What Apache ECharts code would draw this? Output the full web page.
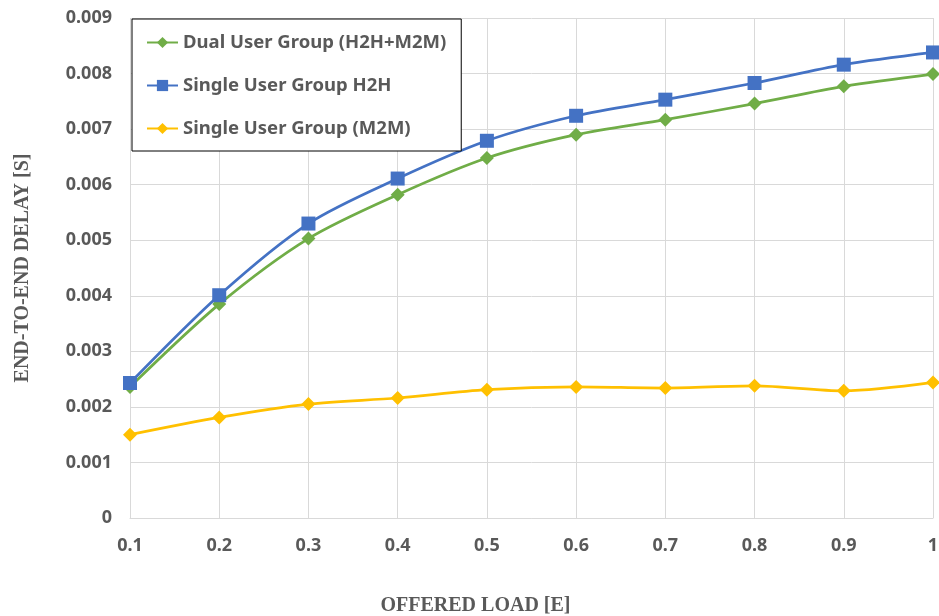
<!DOCTYPE html>
<html>
<head>
<meta charset="utf-8">
<script src="https://cdn.jsdelivr.net/npm/echarts@6/dist/echarts.min.js"></script>
<style>
html,body{margin:0;padding:0;background:#fff;}
#chart{width:939px;height:616px;}
</style>
</head>
<body>
<div id="chart"></div>
<script>
// offered load [E]
var loads = ['0.1', '0.2', '0.3', '0.4', '0.5', '0.6', '0.7', '0.8', '0.9', '1'];
// end-to-end delay [s]
var dualGroup = [0.00236, 0.00385, 0.00503, 0.00582, 0.00648, 0.00690, 0.00717, 0.00746, 0.00777, 0.00799];
var singleH2H = [0.00243, 0.00401, 0.00530, 0.00611, 0.00679, 0.00724, 0.00753, 0.00783, 0.00816, 0.00838];
var singleM2M = [0.00150, 0.00181, 0.00205, 0.00216, 0.00231, 0.00236, 0.00234, 0.00238, 0.00229, 0.00244];

var names = ['Dual User Group (H2H+M2M)', 'Single User Group H2H', 'Single User Group (M2M)'];
var colors = ['#70ad47', '#4472c4', '#ffc000'];

var labelFont = 'Noto Sans';
var titleFont = 'Liberation Serif';

function mkSeries(i, data, symbol, size) {
    return {
        name: names[i],
        type: 'line',
        data: data,
        smooth: 0.3,
        symbol: symbol,
        symbolSize: size,
        itemStyle: { color: colors[i] },
        lineStyle: { color: colors[i], width: 2.75 },
        z: 2 + i
    };
}

var chart = echarts.init(document.getElementById('chart'));
chart.setOption({
    animation: false,
    grid: { left: 130, right: 6, top: 18, bottom: 98, containLabel: false, outerBoundsMode: 'none' },
    legend: {
        orient: 'vertical',
        left: 132,
        top: 19,
        backgroundColor: '#fff',
        borderColor: '#000',
        borderWidth: 1,
        padding: [14, 15, 13, 14],
        itemGap: 24,
        itemWidth: 31,
        itemHeight: 14,
        textStyle: { fontFamily: labelFont, fontSize: 18.5, fontWeight: 'bold', color: '#595959' },
        data: names
    },
    xAxis: {
        type: 'category',
        data: loads,
        boundaryGap: false,
        name: 'OFFERED LOAD [E]',
        nameLocation: 'middle',
        nameGap: 78,
        nameTextStyle: {
            fontFamily: titleFont, fontSize: 20, fontWeight: 'bold', color: '#595959',
            padding: [0, 112, 0, 0]
        },
        axisLine: { show: true, lineStyle: { color: '#d9d9d9', width: 1 } },
        axisTick: { show: false },
        axisLabel: { fontFamily: labelFont, fontSize: 18, fontWeight: 'bold', color: '#595959', margin: 19 },
        splitLine: { show: true, lineStyle: { color: '#d9d9d9', width: 1 } }
    },
    yAxis: {
        type: 'value',
        min: 0,
        max: 0.009,
        interval: 0.001,
        name: 'END-TO-END DELAY [S]',
        nameLocation: 'middle',
        nameGap: 97,
        nameTextStyle: { fontFamily: titleFont, fontSize: 20, fontWeight: 'bold', color: '#595959' },
        axisLine: { show: false },
        axisTick: { show: false },
        axisLabel: {
            fontFamily: labelFont, fontSize: 18, fontWeight: 'bold', color: '#595959', margin: 18,
            formatter: function (v) { return v === 0 ? '0' : v.toFixed(3); }
        },
        splitLine: { show: true, lineStyle: { color: '#d9d9d9', width: 1 } }
    },
    series: [
        mkSeries(0, dualGroup, 'diamond', 14),
        mkSeries(1, singleH2H, 'rect', 14),
        mkSeries(2, singleM2M, 'diamond', 14)
    ]
});
</script>
</body>
</html>
